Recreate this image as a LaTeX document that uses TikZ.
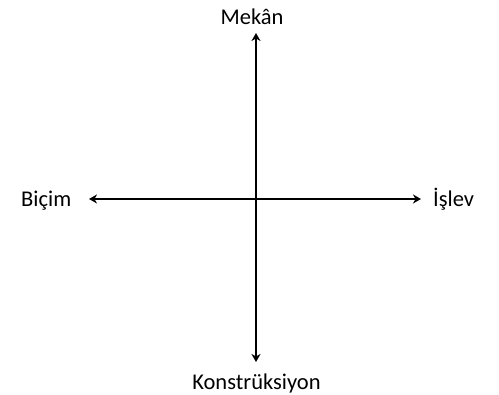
\documentclass[tikz,border=0pt]{standalone}
\usepackage{fontspec}
\setmainfont{Carlito}
\usetikzlibrary{arrows.meta,positioning}
\tikzset{
  axislabel/.style={font=\fontsize{22.5}{27}\selectfont,inner sep=0pt,anchor=base},
  axisline/.style={line width=1.4pt,{Stealth[length=8pt,width=9pt,inset=2.5pt]}-{Stealth[length=8pt,width=9pt,inset=2.5pt]}}
}
\begin{document}
\begin{tikzpicture}[x=1pt,y=1pt]
  \useasboundingbox (0,0) rectangle (499,395);
  % Axis ends
  \coordinate (up) at (256,362);
  \coordinate (down) at (256,33);
  \coordinate (left) at (89,196);
  \coordinate (right) at (421,196);
  % Labels
  \node[axislabel] (mekan) at (252,370) {Mekân};
  \node[axislabel] (konst) at (256.5,5) {Konstrüksiyon};
  \node[axislabel,anchor=base west] (bicim) at (21,188) {Biçim};
  \node[axislabel,anchor=base west] (islev) at (433,188) {İşlev};
  % Axes
  \draw[axisline] (down) -- (up);
  \draw[axisline] (left) -- (right);
\end{tikzpicture}
\end{document}
